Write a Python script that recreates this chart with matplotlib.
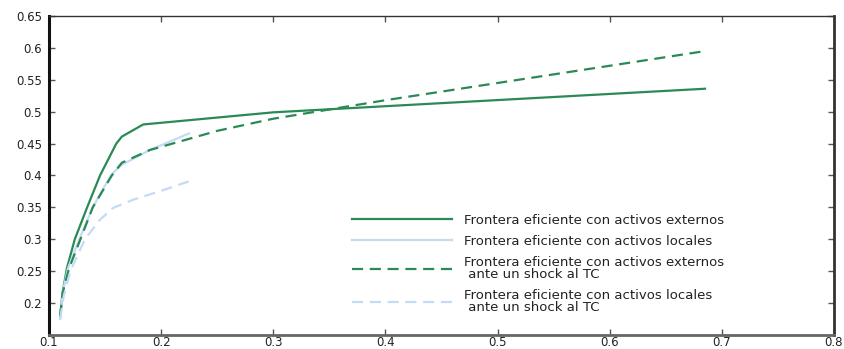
import matplotlib
matplotlib.use("Agg")
import matplotlib.pyplot as plt

# Efficient frontiers: risk (x) vs. return (y)
ext_x = [0.110, 0.112, 0.116, 0.123, 0.134, 0.1455, 0.160, 0.165, 0.184, 0.300, 0.685]
ext_y = [0.180, 0.215, 0.255, 0.300, 0.350, 0.400, 0.450, 0.461, 0.480, 0.499, 0.536]

loc_x = [0.110, 0.112, 0.117, 0.127, 0.139, 0.155, 0.164, 0.190, 0.225]
loc_y = [0.175, 0.215, 0.255, 0.300, 0.350, 0.400, 0.416, 0.440, 0.466]

ext_shock_x = [0.110, 0.112, 0.118, 0.128, 0.139, 0.156, 0.165, 0.190, 0.250, 0.300, 0.400, 0.500, 0.600, 0.685]
ext_shock_y = [0.180, 0.215, 0.255, 0.300, 0.350, 0.400, 0.420, 0.440, 0.470, 0.489, 0.518, 0.545, 0.572, 0.595]

loc_shock_x = [0.110, 0.113, 0.119, 0.132, 0.145, 0.157, 0.175, 0.200, 0.225]
loc_shock_y = [0.175, 0.210, 0.250, 0.300, 0.330, 0.349, 0.362, 0.376, 0.391]

labels = [
    "Frontera eficiente con activos externos",
    "Frontera eficiente con activos locales",
    "Frontera eficiente con activos externos\n ante un shock al TC",
    "Frontera eficiente con activos locales\n ante un shock al TC",
]

xticks = [0.1, 0.2, 0.3, 0.4, 0.5, 0.6, 0.7, 0.8]
xticklabels = ["0.1", "0.2", "0.3", "0.4", "0.5", "0.6", "0.7", "0.8"]
yticks = [0.2, 0.25, 0.3, 0.35, 0.4, 0.45, 0.5, 0.55, 0.6, 0.65]
yticklabels = ["0.2", "0.25", "0.3", "0.35", "0.4", "0.45", "0.5", "0.55", "0.6", "0.65"]

green = "#2a8a55"
light = "#c4dbf6"

fig = plt.figure(figsize=(8.45, 3.49), dpi=100)
ax = fig.add_axes([49 / 845, 14 / 349, 785 / 845, 319 / 349])

ax.plot(ext_x, ext_y, color=green, lw=1.6, label=labels[0])
ax.plot(loc_x, loc_y, color=light, lw=1.6, label=labels[1])
ax.plot(ext_shock_x, ext_shock_y, color=green, lw=1.6, ls=(0, (5, 3)), label=labels[2])
ax.plot(loc_shock_x, loc_shock_y, color=light, lw=1.6, ls=(0, (5, 3)), label=labels[3])

ax.set_xlim(0.1, 0.8)
ax.set_ylim(0.15, 0.65)
ax.set_xticks(xticks)
ax.set_xticklabels(xticklabels)
ax.set_yticks(yticks)
ax.set_yticklabels(yticklabels)
ax.tick_params(direction="in", top=True, right=True, length=4, width=1,
               color="#555555", labelsize=8.5, labelcolor="#222222")
ax.tick_params(axis="x", pad=1)
ax.tick_params(axis="y", pad=5)

ax.spines["left"].set_linewidth(2.2)
ax.spines["left"].set_color("#111111")
ax.spines["bottom"].set_linewidth(2.0)
ax.spines["bottom"].set_color("#666666")
ax.spines["top"].set_linewidth(1.0)
ax.spines["top"].set_color("#333333")
ax.spines["right"].set_linewidth(2.0)
ax.spines["right"].set_color("#333333")

leg = ax.legend(loc="lower left", bbox_to_anchor=(0.386, 0.065), frameon=False,
                fontsize=9.5, handlelength=7.6, labelspacing=0.62,
                handletextpad=0.85, borderaxespad=0, borderpad=0)
for t in leg.get_texts():
    t.set_color("#222222")
    t.set_linespacing(0.9)

fig.savefig("out.png", dpi=100)
